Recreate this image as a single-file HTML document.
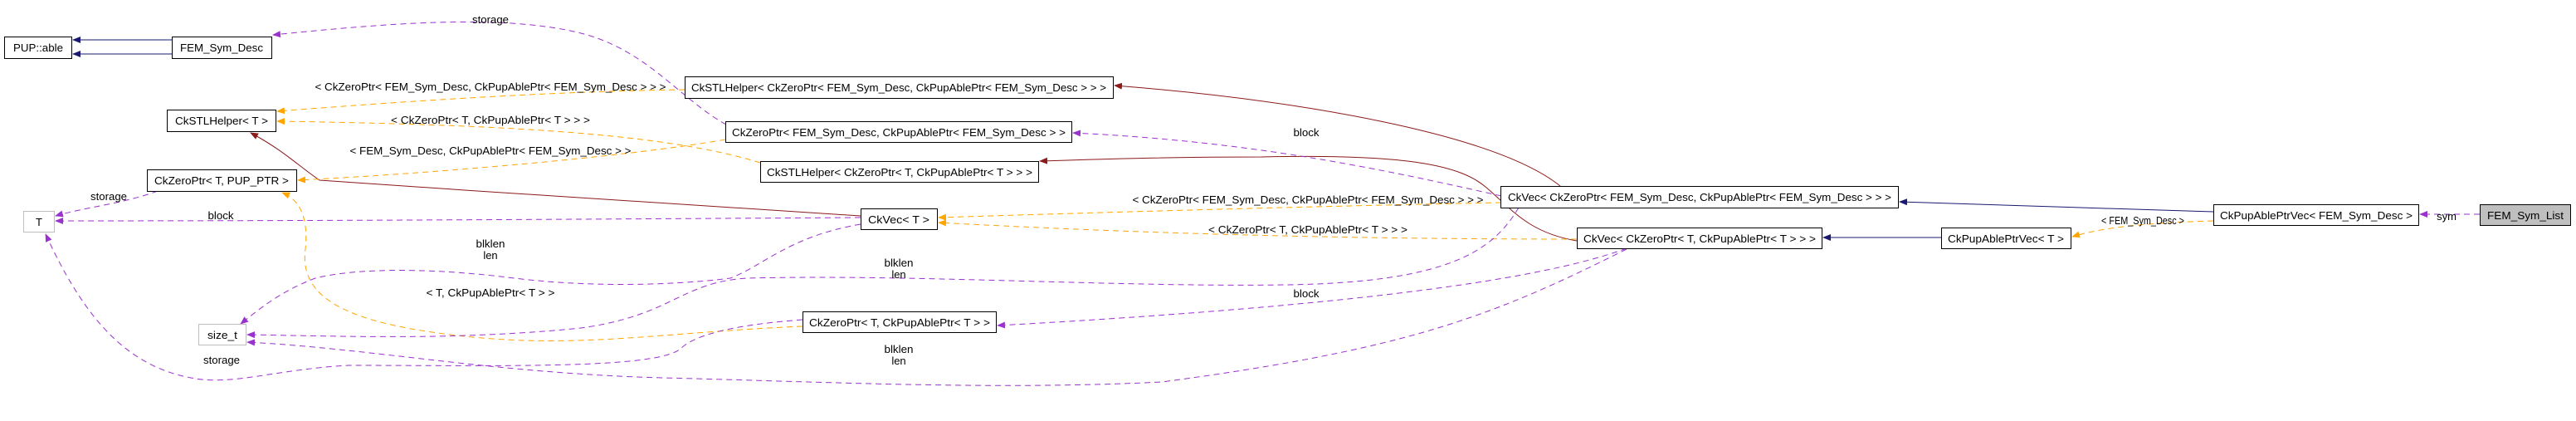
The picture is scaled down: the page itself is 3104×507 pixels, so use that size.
<!DOCTYPE html>
<html><head><meta charset="utf-8"><style>
html,body{margin:0;padding:0;background:#fff;}
svg{display:block;}
text{font-family:"Liberation Sans",sans-serif;font-size:13px;fill:#000;}
.n{fill:#fff;stroke:#000;stroke-width:1;}
.g{fill:#fff;stroke:#bfbfbf;stroke-width:1;}
.e{fill:none;stroke-width:1;}
.b{stroke:#191970;}
.r{stroke:#8b1a1a;}
.o{stroke:#ffa500;stroke-dasharray:7,5;}
.p{stroke:#9a32cd;stroke-dasharray:7,5;}
</style></head><body>
<svg width="3104" height="507" viewBox="0 0 3104 507" xmlns="http://www.w3.org/2000/svg">
<defs>
<marker id="ab" markerWidth="10" markerHeight="8" refX="9" refY="4" orient="auto" markerUnits="userSpaceOnUse"><path d="M0,0 L10,4 L0,8 z" fill="#191970"/></marker>
<marker id="ar" markerWidth="10" markerHeight="8" refX="9" refY="4" orient="auto" markerUnits="userSpaceOnUse"><path d="M0,0 L10,4 L0,8 z" fill="#8b1a1a"/></marker>
<marker id="ao" markerWidth="10" markerHeight="8" refX="9" refY="4" orient="auto" markerUnits="userSpaceOnUse"><path d="M0,0 L10,4 L0,8 z" fill="#ffa500"/></marker>
<marker id="ap" markerWidth="10" markerHeight="8" refX="9" refY="4" orient="auto" markerUnits="userSpaceOnUse"><path d="M0,0 L10,4 L0,8 z" fill="#9a32cd"/></marker>
</defs>

<path class="e b" d="M207,48 L150,48 L88,48" marker-end="url(#ab)"/>
<path class="e b" d="M207,65 L150,65 L88,65" marker-end="url(#ab)"/>
<path class="e b" d="M2667,255 C2550,252 2400,246 2289,243" marker-end="url(#ab)"/>
<path class="e b" d="M2339,286 L2197,286" marker-end="url(#ab)"/>

<path class="e p" d="M2988,258 L2916,258" marker-end="url(#ap)"/>
<path class="e o" d="M2667,266 C2600,268 2540,272 2497,285" marker-end="url(#ao)"/>

<path class="e r" d="M1880,224 C1800,160 1560,120 1343,103" marker-end="url(#ar)"/>
<path class="e r" d="M1900,290 C1840,280 1820,250 1790,225 C1760,200 1700,185 1520,189 C1400,189 1320,192 1253,194" marker-end="url(#ar)"/>
<path class="e r" d="M1037,260 C800,245 600,232 385,217 C360,200 340,180 302,160" marker-end="url(#ar)"/>

<path class="e o" d="M1809,244 C1600,248 1350,255 1131,262" marker-end="url(#ao)"/>
<path class="e o" d="M1900,288 C1600,288 1350,280 1131,268" marker-end="url(#ao)"/>
<path class="e o" d="M825,108 C650,110 450,125 334,134" marker-end="url(#ao)"/>
<path class="e o" d="M916,196 C800,160 600,150 334,146" marker-end="url(#ao)"/>
<path class="e o" d="M874,168 C750,190 500,210 359,217" marker-end="url(#ao)"/>
<path class="e o" d="M967,393 C800,400 700,420 560,405 C420,390 360,360 368,300 C372,260 360,240 340,232" marker-end="url(#ao)"/>

<path class="e p" d="M875,150 C820,120 780,60 700,40 C600,15 450,30 329,42" marker-end="url(#ap)"/>
<path class="e p" d="M1809,236 C1650,200 1500,170 1293,160" marker-end="url(#ap)"/>
<path class="e p" d="M1960,299 C1850,340 1600,370 1202,392" marker-end="url(#ap)"/>
<path class="e p" d="M190,230 C150,245 100,250 67,260" marker-end="url(#ap)"/>
<path class="e p" d="M1037,262 C700,264 400,266 67,266" marker-end="url(#ap)"/>
<path class="e p" d="M1037,270 C950,285 920,320 880,335 C800,345 700,345 620,335 C500,320 420,325 380,335 C340,350 315,370 290,390" marker-end="url(#ap)"/>
<path class="e p" d="M1830,250 C1800,300 1750,340 1550,343 C1350,346 1100,330 900,335 C820,340 810,380 700,395 C550,410 420,405 298,403" marker-end="url(#ap)"/>
<path class="e p" d="M1960,300 C1800,380 1700,420 1400,460 C1200,470 1000,460 800,455 C600,450 450,420 298,412" marker-end="url(#ap)"/>
<path class="e p" d="M967,385 C900,390 840,400 820,420 C790,445 600,440 420,440 C330,445 280,465 230,455 C150,440 100,380 55,282" marker-end="url(#ap)"/>

<rect class="n" x="5.5" y="44.5" width="81" height="26"/><text x="46" y="62" text-anchor="middle" textLength="60" lengthAdjust="spacingAndGlyphs">PUP::able</text>
<rect class="n" x="207.5" y="44.5" width="120" height="26"/><text x="267" y="62" text-anchor="middle" textLength="100" lengthAdjust="spacingAndGlyphs">FEM_Sym_Desc</text>
<rect class="n" x="201.5" y="132.5" width="131" height="26"/><text x="267" y="150" text-anchor="middle" textLength="112" lengthAdjust="spacingAndGlyphs">CkSTLHelper&lt; T &gt;</text>
<rect class="n" x="177.5" y="204.5" width="180" height="26"/><text x="267" y="222" text-anchor="middle" textLength="162" lengthAdjust="spacingAndGlyphs">CkZeroPtr&lt; T, PUP_PTR &gt;</text>
<rect class="g" x="28.5" y="254.5" width="37" height="25"/><text x="47" y="272" text-anchor="middle">T</text>
<rect class="g" x="239.5" y="390.5" width="57" height="25"/><text x="268" y="408" text-anchor="middle" textLength="36" lengthAdjust="spacingAndGlyphs">size_t</text>
<rect class="n" x="825.5" y="92.5" width="516" height="26"/><text x="1083" y="110" text-anchor="middle" textLength="500" lengthAdjust="spacingAndGlyphs">CkSTLHelper&lt; CkZeroPtr&lt; FEM_Sym_Desc, CkPupAblePtr&lt; FEM_Sym_Desc &gt; &gt; &gt;</text>
<rect class="n" x="874.5" y="146.5" width="417" height="25"/><text x="1083" y="164" text-anchor="middle" textLength="402" lengthAdjust="spacingAndGlyphs">CkZeroPtr&lt; FEM_Sym_Desc, CkPupAblePtr&lt; FEM_Sym_Desc &gt; &gt;</text>
<rect class="n" x="916.5" y="194.5" width="335" height="25"/><text x="1084" y="212" text-anchor="middle" textLength="320" lengthAdjust="spacingAndGlyphs">CkSTLHelper&lt; CkZeroPtr&lt; T, CkPupAblePtr&lt; T &gt; &gt; &gt;</text>
<rect class="n" x="1037.5" y="251.5" width="92" height="25"/><text x="1083" y="269" text-anchor="middle" textLength="74" lengthAdjust="spacingAndGlyphs">CkVec&lt; T &gt;</text>
<rect class="n" x="967.5" y="375.5" width="233" height="25"/><text x="1084" y="393" text-anchor="middle" textLength="218" lengthAdjust="spacingAndGlyphs">CkZeroPtr&lt; T, CkPupAblePtr&lt; T &gt; &gt;</text>
<rect class="n" x="1808.5" y="224.5" width="479" height="26"/><text x="2048" y="242" text-anchor="middle" textLength="462" lengthAdjust="spacingAndGlyphs">CkVec&lt; CkZeroPtr&lt; FEM_Sym_Desc, CkPupAblePtr&lt; FEM_Sym_Desc &gt; &gt; &gt;</text>
<rect class="n" x="1900.5" y="274.5" width="295" height="25"/><text x="2048" y="292" text-anchor="middle" textLength="280" lengthAdjust="spacingAndGlyphs">CkVec&lt; CkZeroPtr&lt; T, CkPupAblePtr&lt; T &gt; &gt; &gt;</text>
<rect class="n" x="2339.5" y="274.5" width="156" height="25"/><text x="2417" y="292" text-anchor="middle" textLength="140" lengthAdjust="spacingAndGlyphs">CkPupAblePtrVec&lt; T &gt;</text>
<rect class="n" x="2667.5" y="246.5" width="247" height="25"/><text x="2791" y="264" text-anchor="middle" textLength="232" lengthAdjust="spacingAndGlyphs">CkPupAblePtrVec&lt; FEM_Sym_Desc &gt;</text>
<rect x="2988.5" y="246.5" width="109" height="25" fill="#bfbfbf" stroke="#000"/><text x="3043" y="264" text-anchor="middle" textLength="92" lengthAdjust="spacingAndGlyphs">FEM_Sym_List</text>

<text x="591" y="28" text-anchor="middle" textLength="44" lengthAdjust="spacingAndGlyphs">storage</text>
<text x="591" y="109" text-anchor="middle" textLength="423" lengthAdjust="spacingAndGlyphs">&lt; CkZeroPtr&lt; FEM_Sym_Desc, CkPupAblePtr&lt; FEM_Sym_Desc &gt; &gt; &gt;</text>
<text x="591" y="149" text-anchor="middle" textLength="240" lengthAdjust="spacingAndGlyphs">&lt; CkZeroPtr&lt; T, CkPupAblePtr&lt; T &gt; &gt; &gt;</text>
<text x="591" y="186" text-anchor="middle" textLength="339" lengthAdjust="spacingAndGlyphs">&lt; FEM_Sym_Desc, CkPupAblePtr&lt; FEM_Sym_Desc &gt; &gt;</text>
<text x="131" y="241" text-anchor="middle" textLength="44" lengthAdjust="spacingAndGlyphs">storage</text>
<text x="266" y="264" text-anchor="middle" textLength="31" lengthAdjust="spacingAndGlyphs">block</text>
<text x="591" y="298" text-anchor="middle" textLength="35" lengthAdjust="spacingAndGlyphs">blklen</text>
<text x="591" y="312" text-anchor="middle">len</text>
<text x="591" y="357" text-anchor="middle" textLength="155" lengthAdjust="spacingAndGlyphs">&lt; T, CkPupAblePtr&lt; T &gt; &gt;</text>
<text x="267" y="438" text-anchor="middle" textLength="44" lengthAdjust="spacingAndGlyphs">storage</text>
<text x="1574" y="164" text-anchor="middle" textLength="31" lengthAdjust="spacingAndGlyphs">block</text>
<text x="1576" y="245" text-anchor="middle" textLength="423" lengthAdjust="spacingAndGlyphs">&lt; CkZeroPtr&lt; FEM_Sym_Desc, CkPupAblePtr&lt; FEM_Sym_Desc &gt; &gt; &gt;</text>
<text x="1576" y="281" text-anchor="middle" textLength="240" lengthAdjust="spacingAndGlyphs">&lt; CkZeroPtr&lt; T, CkPupAblePtr&lt; T &gt; &gt; &gt;</text>
<text x="1083" y="321" text-anchor="middle" textLength="35" lengthAdjust="spacingAndGlyphs">blklen</text>
<text x="1083" y="335" text-anchor="middle">len</text>
<text x="1574" y="358" text-anchor="middle" textLength="31" lengthAdjust="spacingAndGlyphs">block</text>
<text x="1083" y="425" text-anchor="middle" textLength="35" lengthAdjust="spacingAndGlyphs">blklen</text>
<text x="1083" y="439" text-anchor="middle">len</text>
<text x="2948" y="265" text-anchor="middle">sym</text>
<text x="2582" y="270" text-anchor="middle" textLength="100" lengthAdjust="spacingAndGlyphs">&lt; FEM_Sym_Desc &gt;</text>
</svg>
</body></html>
